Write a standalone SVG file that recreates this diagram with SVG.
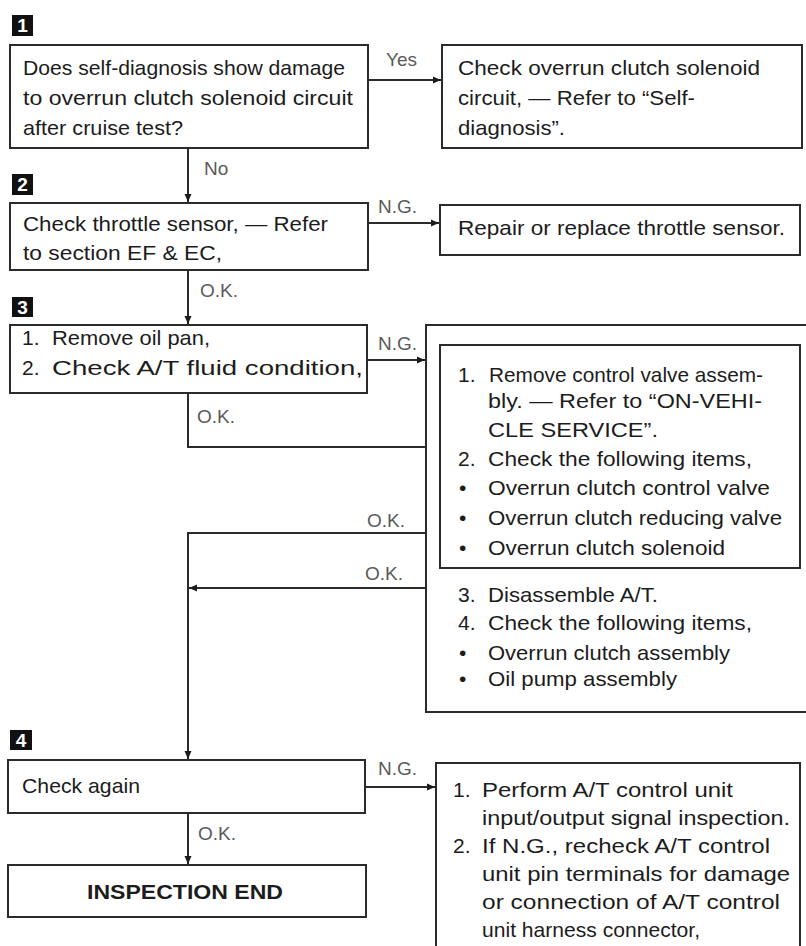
<svg xmlns="http://www.w3.org/2000/svg" width="806" height="946" viewBox="0 0 806 946">
<style>
.box{fill:#fff;stroke:#2b2b2b;stroke-width:2}
.t{font-family:"Liberation Sans",Arial,sans-serif;font-size:21px;fill:#1c1c1c}
.b{font-weight:bold}
.lbl{font-family:"Liberation Sans",Arial,sans-serif;font-size:19px;fill:#5a5a5a}
.icon{fill:#111}
.num{font-family:"Liberation Sans",Arial,sans-serif;font-size:19px;font-weight:bold;fill:#fff;text-anchor:middle}
.c{fill:none;stroke:#2b2b2b;stroke-width:2}
</style>
<defs>
<marker id="ah" markerWidth="9" markerHeight="8" refX="8" refY="4" orient="auto" markerUnits="userSpaceOnUse">
<path d="M0,0.5 L8,4 L0,7.5 z" fill="#1c1c1c"/>
</marker>
</defs>
<rect width="806" height="946" fill="#fff"/>

<g id="connectors">
<path class="c" d="M368,80 H441" marker-end="url(#ah)"/>
<path class="c" d="M188,148 V202" marker-end="url(#ah)"/>
<path class="c" d="M368,223 H439" marker-end="url(#ah)"/>
<path class="c" d="M188,270 V324" marker-end="url(#ah)"/>
<path class="c" d="M367,360 H425" marker-end="url(#ah)"/>
<path class="c" d="M188,393 V447 H439" marker-end="url(#ah)"/>
<path class="c" d="M440,533 H188 V759" marker-end="url(#ah)"/>
<path class="c" d="M426,588 H189" marker-end="url(#ah)"/>
<path class="c" d="M365,787 H435" marker-end="url(#ah)"/>
<path class="c" d="M188,813 V864" marker-end="url(#ah)"/>
<text class="lbl" x="386" y="66">Yes</text>
<text class="lbl" x="204" y="175">No</text>
<text class="lbl" x="378" y="213">N.G.</text>
<text class="lbl" x="200" y="297">O.K.</text>
<text class="lbl" x="378" y="350">N.G.</text>
<text class="lbl" x="197" y="423">O.K.</text>
<text class="lbl" x="367" y="527">O.K.</text>
<text class="lbl" x="365" y="580">O.K.</text>
<text class="lbl" x="378" y="775">N.G.</text>
<text class="lbl" x="198" y="840">O.K.</text>
</g>

<g id="step1">
<rect class="icon" x="12" y="15" width="21" height="21"/>
<text class="num" x="22.5" y="32">1</text>
</g>
<g id="step2">
<rect class="icon" x="12" y="174" width="21" height="21"/>
<text class="num" x="22.5" y="191">2</text>
</g>
<g id="step3">
<rect class="icon" x="12" y="297" width="21" height="20"/>
<text class="num" x="22.5" y="314">3</text>
</g>
<g id="step4">
<rect class="icon" x="10" y="730" width="22" height="20"/>
<text class="num" x="21" y="747">4</text>
</g>

<g id="box1">
<rect class="box" x="10" y="45" width="358" height="103"/>
<text class="t" x="23" y="75" textLength="322" lengthAdjust="spacingAndGlyphs">Does self-diagnosis show damage</text>
<text class="t" x="23" y="105" textLength="330" lengthAdjust="spacingAndGlyphs">to overrun clutch solenoid circuit</text>
<text class="t" x="23" y="135" textLength="160" lengthAdjust="spacingAndGlyphs">after cruise test?</text>
</g>

<g id="box1-yes">
<rect class="box" x="442" y="45" width="360" height="103"/>
<text class="t" x="458" y="75" textLength="302" lengthAdjust="spacingAndGlyphs">Check overrun clutch solenoid</text>
<text class="t" x="458" y="105" textLength="237" lengthAdjust="spacingAndGlyphs">circuit, — Refer to “Self-</text>
<text class="t" x="458" y="135" textLength="107" lengthAdjust="spacingAndGlyphs">diagnosis”.</text>
</g>

<g id="box2">
<rect class="box" x="10" y="203" width="358" height="67"/>
<text class="t" x="23" y="231" textLength="305" lengthAdjust="spacingAndGlyphs">Check throttle sensor, — Refer</text>
<text class="t" x="23" y="260" textLength="199" lengthAdjust="spacingAndGlyphs">to section EF &amp; EC,</text>
</g>

<g id="box2-ng">
<rect class="box" x="440" y="205" width="360" height="50"/>
<text class="t" x="458" y="235" textLength="327" lengthAdjust="spacingAndGlyphs">Repair or replace throttle sensor.</text>
</g>

<g id="box3">
<rect class="box" x="10" y="325" width="357" height="68"/>
<text class="t" x="22" y="345">1.</text>
<text class="t" x="52" y="345" textLength="158" lengthAdjust="spacingAndGlyphs">Remove oil pan,</text>
<text class="t" x="22" y="375">2.</text>
<text class="t" x="52" y="375" textLength="311" lengthAdjust="spacingAndGlyphs">Check A/T fluid condition,</text>
</g>

<g id="box3-ng">
<rect class="box" x="426" y="325" width="400" height="387"/>
<rect class="box" x="440" y="345" width="360" height="223"/>
<text class="t" x="458" y="382">1.</text>
<text class="t" x="489" y="382" textLength="274" lengthAdjust="spacingAndGlyphs">Remove control valve assem-</text>
<text class="t" x="488" y="408" textLength="274" lengthAdjust="spacingAndGlyphs">bly. — Refer to “ON-VEHI-</text>
<text class="t" x="488" y="437" textLength="170" lengthAdjust="spacingAndGlyphs">CLE SERVICE”.</text>
<text class="t" x="458" y="466">2.</text>
<text class="t" x="488" y="466" textLength="264" lengthAdjust="spacingAndGlyphs">Check the following items,</text>
<text class="t" x="459" y="495">•</text>
<text class="t" x="488" y="495" textLength="282" lengthAdjust="spacingAndGlyphs">Overrun clutch control valve</text>
<text class="t" x="459" y="525">•</text>
<text class="t" x="488" y="525" textLength="294" lengthAdjust="spacingAndGlyphs">Overrun clutch reducing valve</text>
<text class="t" x="459" y="555">•</text>
<text class="t" x="488" y="555" textLength="237" lengthAdjust="spacingAndGlyphs">Overrun clutch solenoid</text>
<text class="t" x="458" y="602">3.</text>
<text class="t" x="488" y="602" textLength="170" lengthAdjust="spacingAndGlyphs">Disassemble A/T.</text>
<text class="t" x="458" y="630">4.</text>
<text class="t" x="488" y="630" textLength="264" lengthAdjust="spacingAndGlyphs">Check the following items,</text>
<text class="t" x="459" y="660">•</text>
<text class="t" x="488" y="660" textLength="242" lengthAdjust="spacingAndGlyphs">Overrun clutch assembly</text>
<text class="t" x="459" y="686">•</text>
<text class="t" x="488" y="686" textLength="189" lengthAdjust="spacingAndGlyphs">Oil pump assembly</text>
</g>

<g id="box4">
<rect class="box" x="8" y="760" width="357" height="53"/>
<text class="t" x="22" y="793" textLength="118" lengthAdjust="spacingAndGlyphs">Check again</text>
</g>

<g id="box4-ng">
<rect class="box" x="436" y="763" width="364" height="200"/>
<text class="t" x="453" y="797">1.</text>
<text class="t" x="482" y="797" textLength="251" lengthAdjust="spacingAndGlyphs">Perform A/T control unit</text>
<text class="t" x="482" y="825" textLength="308" lengthAdjust="spacingAndGlyphs">input/output signal inspection.</text>
<text class="t" x="453" y="853">2.</text>
<text class="t" x="482" y="853" textLength="288" lengthAdjust="spacingAndGlyphs">If N.G., recheck A/T control</text>
<text class="t" x="482" y="881" textLength="308" lengthAdjust="spacingAndGlyphs">unit pin terminals for damage</text>
<text class="t" x="482" y="909" textLength="298" lengthAdjust="spacingAndGlyphs">or connection of A/T control</text>
<text class="t" x="482" y="937" textLength="218" lengthAdjust="spacingAndGlyphs">unit harness connector,</text>
</g>

<g id="end">
<rect class="box" x="8" y="865" width="358" height="52"/>
<text class="t b" x="87" y="899" textLength="196" lengthAdjust="spacingAndGlyphs">INSPECTION  END</text>
</g>
</svg>
